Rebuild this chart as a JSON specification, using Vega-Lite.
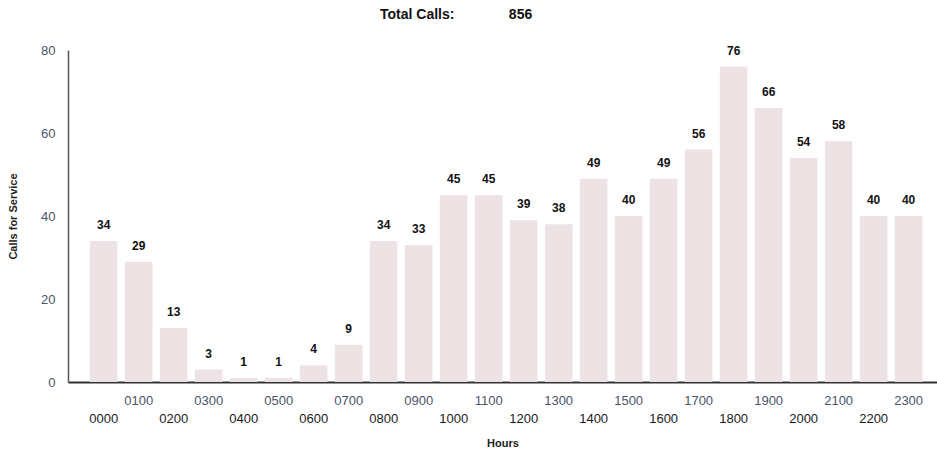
{
  "$schema": "https://vega.github.io/schema/vega-lite/v6.json",
  "autosize": "none",
  "width": 869,
  "height": 332,
  "padding": {"left": 68, "top": 50, "right": 0, "bottom": 69},
  "background": "white",
  "config": {"view": {"stroke": null}, "font": "Liberation Sans"},
  "title": {
    "text": "Total Calls:\u00a0\u00a0\u00a0\u00a0\u00a0\u00a0\u00a0\u00a0\u00a0\u00a0\u00a0\u00a0\u00a0\u00a0856",
    "anchor": "start",
    "frame": "group",
    "dx": 312,
    "offset": 22,
    "fontSize": 14,
    "fontWeight": "bold",
    "color": "#111111",
    "font": "Liberation Sans"
  },
  "data": {
    "values": [
      {"hour": "0000", "calls": 34},
      {"hour": "0100", "calls": 29},
      {"hour": "0200", "calls": 13},
      {"hour": "0300", "calls": 3},
      {"hour": "0400", "calls": 1},
      {"hour": "0500", "calls": 1},
      {"hour": "0600", "calls": 4},
      {"hour": "0700", "calls": 9},
      {"hour": "0800", "calls": 34},
      {"hour": "0900", "calls": 33},
      {"hour": "1000", "calls": 45},
      {"hour": "1100", "calls": 45},
      {"hour": "1200", "calls": 39},
      {"hour": "1300", "calls": 38},
      {"hour": "1400", "calls": 49},
      {"hour": "1500", "calls": 40},
      {"hour": "1600", "calls": 49},
      {"hour": "1700", "calls": 56},
      {"hour": "1800", "calls": 76},
      {"hour": "1900", "calls": 66},
      {"hour": "2000", "calls": 54},
      {"hour": "2100", "calls": 58},
      {"hour": "2200", "calls": 40},
      {"hour": "2300", "calls": 40}
    ]
  },
  "encoding": {
    "x": {
      "field": "hour",
      "type": "ordinal",
      "sort": null,
      "scale": {"paddingInner": 0.21, "paddingOuter": 0.52, "align": 0.6},
      "axis": {
        "title": "Hours",
        "titleFontSize": 11,
        "titleFontWeight": "bold",
        "titleColor": "#222222",
        "titlePadding": 12,
        "labelAngle": 0,
        "labelFontSize": 13,
        "labelPadding": {"condition": {"test": "toNumber(datum.value) % 200 == 0", "value": 30}, "value": 12},
        "labelColor": {"condition": {"test": "toNumber(datum.value) % 200 == 0", "value": "#1a1a1a"}, "value": "#4a5468"},
        "ticks": false,
        "domainColor": "#333333",
        "domainWidth": 2,
        "grid": false
      }
    },
    "y": {
      "field": "calls",
      "type": "quantitative",
      "scale": {"domain": [0, 80], "nice": false},
      "axis": {
        "title": "Calls for Service",
        "titleFontSize": 11,
        "titleFontWeight": "bold",
        "titleColor": "#222222",
        "titlePadding": 22,
        "values": [0, 20, 40, 60, 80],
        "labelFontSize": 13,
        "labelColor": "#4a5468",
        "labelPadding": 13,
        "ticks": false,
        "domainColor": "#555555",
        "domainWidth": 1.5,
        "grid": false
      }
    }
  },
  "layer": [
    {"mark": {"type": "bar", "color": "#ede2e4"}},
    {
      "mark": {"type": "text", "baseline": "bottom", "dy": -9, "fontSize": 12, "fontWeight": "bold", "color": "#111111"},
      "encoding": {"text": {"field": "calls", "type": "quantitative"}}
    }
  ]
}
